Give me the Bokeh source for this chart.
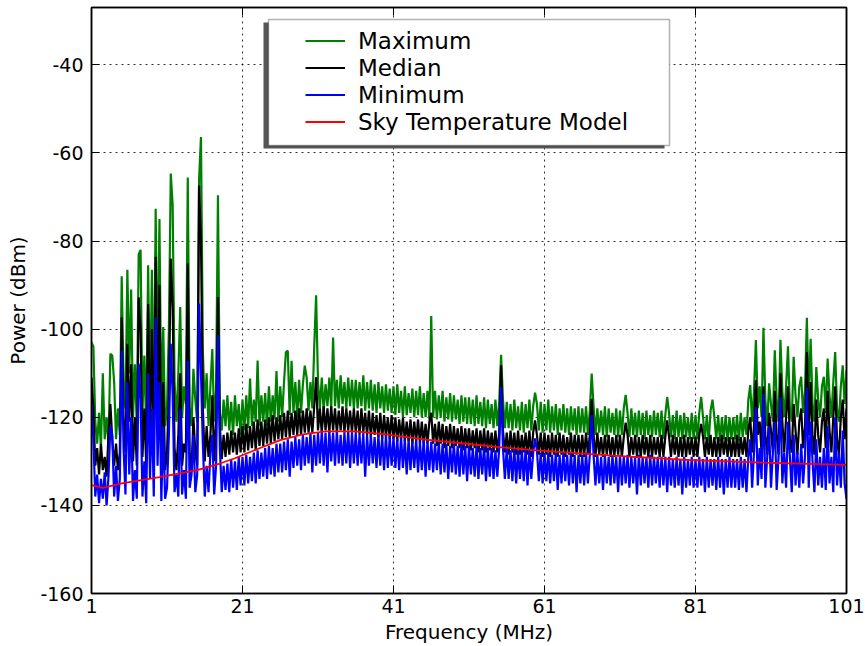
import numpy as np
from bokeh.plotting import figure
from bokeh.models import Range1d, FixedTicker, LinearAxis, Legend, LegendItem, BoxAnnotation
from bokeh.core.properties import value
from bokeh.embed import file_html
from bokeh.resources import INLINE

# ---------------- data (0.25 MHz steps from 1 to 101 MHz) ----------------
maximum = [
    -103, -104, -121, -126, -119, -127, -110, -125, -120, -126, -105.6, -106, -112, -125, -118, -124, -88, -112, -118, -86.5,
    -110, -91, -120, -108, -122, -83, -82, -119, -106, -123, -85.5, -118, -86.5, -121, -72.7, -112, -75, -120, -99.5, -122,
    -118, -100, -64.7, -71.8, -112, -121, -110, -95, -120, -113, -117, -65.6, -118, -122, -109, -116, -121, -66, -56.4, -105,
    -118, -110, -122, -113, -104.5, -121, -114, -69.6, -119, -123, -116, -122, -115, -123, -116.5, -124, -115, -122, -117, -124,
    -116, -123, -115, -122.5, -111.2, -122, -116, -121, -107.1, -122, -115, -121, -114.5, -122, -113, -121, -115, -120.5, -109.5, -121,
    -113, -120, -112, -105.2, -104.9, -119.5, -107.2, -119, -112, -120, -111.5, -119, -112.5, -108.3, -111, -118.5, -112, -118, -104, -92.3,
    -112, -118, -111, -118.5, -112.5, -117.5, -111, -118, -101.9, -117.5, -111.5, -118, -110.5, -117, -112, -118, -111, -117.5, -111.5, -118,
    -111.5, -118, -112, -117.5, -110.5, -118.5, -112, -118, -111.5, -118.5, -112.5, -119, -112, -118, -113, -119, -112.5, -118.5, -113.5, -119,
    -113, -119.5, -112.5, -119, -114, -120, -113, -119.5, -114.5, -119, -113.5, -120, -114, -119.5, -113, -120, -114.5, -120, -114, -120.5,
    -97, -120, -114, -120.5, -115, -120, -114, -121, -115.5, -120.5, -114.5, -121, -115, -120.5, -116, -121.5, -115, -121, -115.5, -121.5,
    -115.5, -121.5, -116, -122, -115, -121.5, -116.5, -122, -115.5, -122.5, -116, -121.5, -117, -122.5, -116, -122, -116.5, -105.8, -116, -122.5,
    -116.5, -122.5, -117, -123, -116, -122.5, -117.5, -123, -116.5, -123.5, -117, -122.5, -116, -123, -117.5, -114.4, -117, -123, -116.5, -123.5,
    -117, -123, -116, -123.5, -117.5, -123, -117, -124, -118, -123, -117, -123.5, -118, -124, -117.5, -123, -118, -124, -117.5, -123.5,
    -118, -123.5, -117.5, -124, -118.5, -110.1, -117.5, -124, -118, -123.5, -118.5, -124, -117.5, -124.5, -118, -123.5, -119, -124, -118, -124.5,
    -118.5, -124, -118, -114.9, -119, -124.5, -118, -124, -119, -124.5, -118.5, -124, -119, -125, -118.5, -124, -119.5, -124.5, -118.5, -124,
    -119, -124.5, -118.5, -125, -119.5, -115.4, -119, -124.5, -119.5, -125, -118.5, -124.5, -119.5, -125, -119, -124.5, -120, -125, -119, -125,
    -119.5, -125, -119, -115.4, -120, -125, -119.5, -125.5, -118.5, -116, -120, -125, -119.5, -125.5, -120, -125, -119.5, -125.5, -120, -125,
    -120, -125, -119.5, -125.5, -119, -124.5, -120, -124, -116, -112.7, -121, -114, -102.5, -118, -113, -120, -99.7, -116, -122, -112.3,
    -117, -121, -104.8, -116, -121, -102.4, -114, -120, -113, -103.9, -118, -121, -106.3, -115, -120, -113, -110.8, -119, -114, -97.4,
    -116, -102.2, -117, -121, -108.6, -116, -120, -113, -110.8, -119, -106.7, -115, -120, -112, -105.2, -118, -121, -113, -108.2, -117,
    -109.3,
]

median = [
    -111, -118, -131, -127, -133, -126, -132, -129, -133.5, -124, -117, -125, -131, -126, -132, -128, -97.3, -120, -128, -103.3,
    -121, -108, -130, -120, -131, -92.8, -100, -129, -118, -131, -94.3, -126, -100, -130, -83.6, -124, -90, -131, -112, -132,
    -128, -115, -84, -95, -127, -132, -124, -110, -131, -126, -128, -85.1, -128, -132, -120, -128, -131, -67.4, -80, -118,
    -130, -122, -129, -124, -115, -130, -121, -92.7, -122, -129.5, -124, -129, -123.5, -128.5, -123, -128, -123.5, -128.5, -122.5, -128,
    -122, -128, -121.5, -127.5, -122, -127, -121, -127.5, -120.5, -126.5, -121, -126.5, -120.5, -126, -120, -126, -119.5, -125.5, -120, -125,
    -119.5, -125, -119, -124.5, -118.5, -124.5, -119, -124, -118.5, -124, -118, -124, -118.5, -123.5, -118, -123.5, -118.5, -123.5, -117.5, -110.9,
    -123, -118, -123.5, -117.5, -123, -118, -123.5, -117.5, -123, -118, -123.5, -118.5, -123, -117.5, -123.5, -118, -123, -118.5, -123.5, -118,
    -123.5, -118.5, -124, -118, -123.5, -119, -124, -118.5, -124.5, -119, -124, -119.5, -124.5, -119, -125, -119.5, -124.5, -120, -125, -119.5,
    -125, -120, -125.5, -120.5, -125, -120, -125.5, -121, -125.5, -120.5, -126, -121, -125.5, -120.5, -126, -121, -126, -121.5, -126, -121,
    -119, -126, -121.5, -126.5, -121, -126, -121.5, -127, -122, -126.5, -121.5, -127, -122, -126.5, -122.5, -127, -122, -127.5, -122.5, -127,
    -122.5, -127.5, -123, -127, -122.5, -128, -123, -127.5, -122.5, -128, -123, -127.5, -123.5, -128, -123, -128, -123.5, -108.2, -123, -128,
    -123.5, -128.5, -123, -128, -123.5, -128.5, -123, -128.5, -124, -128, -123.5, -128.5, -123, -129, -123.5, -120.7, -124, -128.5, -123.5, -129,
    -123.5, -128.5, -124, -129, -123.5, -128.5, -124, -129, -123.5, -128.5, -124, -129, -124.5, -128.5, -123.5, -129, -124, -128.5, -124, -129,
    -124, -129, -123.5, -128.5, -124, -115.8, -124, -129, -123.5, -128.5, -124.5, -129, -124, -128.5, -124, -129, -124.5, -129, -124, -128.5,
    -124, -129, -124.5, -121.2, -124, -129, -124.5, -128.5, -124, -129, -124.5, -129, -124, -128.5, -124.5, -129, -124, -129, -124.5, -128.5,
    -124.5, -129, -124, -129, -124.5, -120.7, -124.5, -129, -124, -128.5, -124.5, -129, -124.5, -129, -124, -129, -124.5, -128.5, -124.5, -129,
    -124.5, -129, -124, -121.5, -124.5, -129, -124.5, -128.5, -124, -129, -124.5, -129, -124.5, -129, -124, -128.5, -124.5, -129, -124.5, -129,
    -124.5, -129, -124, -129, -124.5, -128.5, -124.5, -129, -123, -120, -128, -122, -111.6, -124, -121, -128, -113, -124, -128.5, -119,
    -123, -128, -114, -124, -128.5, -110, -121, -128, -120, -113, -125, -128, -117, -123, -128.5, -121, -118, -127, -122, -105.2,
    -124, -112, -124, -128.5, -116, -124, -128, -121, -118, -127, -114, -123, -128, -120, -113, -125, -128.5, -120, -116, -125,
    -118,
]

minimum = [
    -117, -125, -138, -133, -139.5, -134, -138.5, -132.5, -140, -133.5, -122, -124, -138, -131, -139, -134, -104.8, -127, -137.5, -112,
    -133, -120, -139, -132, -138.5, -107.8, -116, -138, -130, -139.5, -110, -134, -118, -138, -97.3, -131, -112, -139, -122, -138.5,
    -136, -124, -103.3, -115, -137, -133, -138, -118, -137.5, -132, -138.5, -107.1, -136, -133, -124, -137, -133, -94.2, -110, -126,
    -138, -131, -137, -128, -124, -137.5, -131, -101.4, -127, -137, -131, -136.5, -130.5, -137, -129.5, -136, -130, -136.5, -129, -135.5,
    -129, -135.5, -128.5, -135, -129, -134.5, -128, -135, -127.5, -134, -128, -133.5, -127, -134, -126.5, -133, -127, -133.5, -126, -132.5,
    -126, -132.5, -125.5, -132, -125, -133.5, -125.5, -131.5, -124.5, -131, -125, -132, -124, -131, -124.5, -130.5, -123.5, -132.5, -124, -131,
    -123.5, -130.5, -123, -131, -123.5, -132.5, -123, -130, -123.5, -131, -123, -130.5, -124, -131, -123.5, -130.5, -123, -131.5, -123.5, -130.5,
    -123.5, -131, -124, -130.5, -123.5, -133.5, -124, -131, -124, -130.5, -124.5, -131.5, -124, -131, -124.5, -132, -124, -131.5, -124.5, -131,
    -124.5, -131.5, -125, -132, -124.5, -131.5, -125, -133, -125, -132, -125.5, -131.5, -125, -132.5, -125.5, -132, -125, -133.5, -125.5, -132,
    -125.5, -132.5, -126, -132, -125.5, -133, -126, -132.5, -126, -134, -126.5, -132.5, -126, -133, -126.5, -133.5, -126, -133, -126.5, -134.5,
    -126.5, -133, -127, -133.5, -126.5, -134, -127, -133, -126.5, -134.5, -127, -133.5, -127, -134, -127.5, -133.5, -127, -113.1, -127, -134,
    -127, -134, -127.5, -134.5, -127, -135, -127.5, -134, -127.5, -134.5, -127, -135.5, -127.5, -134, -128, -124.8, -127.5, -134.5, -128, -135,
    -128, -134.5, -128, -135, -128.5, -134.5, -128, -136.5, -128.5, -135, -128, -134.5, -128.5, -135.5, -128, -135, -128.5, -137, -128.5, -135,
    -128.5, -135.5, -128, -135, -128.5, -119.5, -128.5, -135.5, -128.5, -135, -129, -136.5, -128.5, -135, -129, -135.5, -128.5, -135, -129, -137,
    -128.5, -135.5, -129, -135, -128.5, -136, -129, -135, -129, -137.5, -128.5, -135.5, -129, -135, -129, -136, -128.5, -135.5, -129, -135,
    -129, -136, -129, -135.5, -129, -137, -129, -135.5, -129.5, -136, -129, -135.5, -129.5, -137.5, -129, -136, -129.5, -135.5, -129, -136,
    -129.5, -136, -129, -135.5, -129.5, -137, -129, -136, -129.5, -135.5, -129.5, -136.5, -129, -136, -129.5, -137.5, -129.5, -136, -129, -136,
    -129.5, -136, -129.5, -136.5, -129, -136, -129.5, -137, -129, -125, -136, -128, -117.7, -135.5, -127, -134, -114.7, -136, -129, -122,
    -136, -128, -121, -136.5, -129, -115.5, -135, -128, -136, -121, -129, -137, -124, -135.5, -128, -136, -126, -135, -129, -113.3,
    -136, -121, -130, -137, -125, -135.5, -129, -136, -127, -136.5, -122, -135, -129, -137, -120, -135.5, -128, -136, -123, -135,
    -138.5,
]

sky_freq = [1, 2.5, 5, 10, 15, 18, 20, 23, 26, 29, 32, 36, 40, 45, 50, 55, 60, 70, 80, 90, 101]
sky_model = [-135.4, -136.0, -135.0, -133.6, -132.0, -130.5, -129.3, -127.2, -125.2, -123.9, -123.2,
             -123.2, -123.9, -125.0, -125.9, -126.8, -127.5, -128.7, -129.7, -130.3, -130.8]

x_ticks = [1, 21, 41, 61, 81, 101]
y_ticks = [-160, -140, -120, -100, -80, -60, -40]
labels = ["Maximum", "Median", "Minimum", "Sky Temperature Model"]

assert len(maximum) == len(median) == len(minimum) == 401, (len(maximum), len(median), len(minimum))
freq = np.linspace(1, 101, len(maximum))

# ---------------- figure ----------------
W, H = 865, 646
BL, BR, BT, BB = 91, 19, 7, 53
X0, X1 = 1, 101
Y0, Y1 = -160, -27
FONT = "DejaVu Sans"

p = figure(width=W, height=H, x_range=Range1d(X0, X1), y_range=Range1d(Y0, Y1),
           output_backend="svg", toolbar_location=None,
           min_border_left=BL, min_border_right=BR, min_border_top=BT, min_border_bottom=BB,
           background_fill_color="white", border_fill_color="white")

p.outline_line_color = "black"
p.outline_line_width = 1.5
p.outline_line_alpha = 1

p.xaxis.ticker = FixedTicker(ticks=x_ticks)
p.yaxis.ticker = FixedTicker(ticks=y_ticks)
p.xaxis.major_label_overrides = {t: str(t) for t in x_ticks}
p.yaxis.major_label_overrides = {t: str(t) for t in y_ticks}
for ax in (p.xaxis[0], p.yaxis[0]):
    ax.major_tick_in = 8
    ax.major_tick_out = 0
    ax.minor_tick_in = 0
    ax.minor_tick_out = 0
    ax.axis_line_color = "black"
    ax.axis_line_width = 1.5
    ax.major_tick_line_color = "black"
    ax.major_label_text_font = FONT
    ax.major_label_text_font_size = "19px"
    ax.major_label_text_color = "black"
    ax.axis_label_text_font = FONT
    ax.axis_label_text_font_size = "20px"
    ax.axis_label_text_font_style = "normal"
    ax.axis_label_text_color = "black"
p.xaxis.axis_label = "Frequency (MHz)"
p.yaxis.axis_label = "Power (dBm)"
p.xaxis.major_label_standoff = 5
p.xaxis.axis_label_standoff = 4
p.yaxis.major_label_standoff = 8
p.yaxis.axis_label_standoff = 7

# inward tick marks on the right and top spines (no labels there)
for place, tick in (("right", y_ticks), ("above", x_ticks)):
    ax = LinearAxis(ticker=FixedTicker(ticks=tick), major_label_text_font_size="0px",
                    major_tick_in=8, major_tick_out=0, minor_tick_in=0, minor_tick_out=0,
                    major_label_standoff=0, axis_line_width=1.5, axis_line_color="black")
    p.add_layout(ax, place)

p.grid.grid_line_color = "black"
p.grid.grid_line_alpha = 0.8
p.grid.grid_line_dash = "2 4"
p.grid.grid_line_width = 1

LW = 2.2
r_max = p.line(freq, maximum, line_color="#008000", line_width=LW)
r_med = p.line(freq, median, line_color="#000000", line_width=LW)
r_min = p.line(freq, minimum, line_color="#0000ff", line_width=LW)
r_sky = p.line(sky_freq, sky_model, line_color="#ff0000", line_width=1.8)

# legend frame (shadow + box), positioned in screen pixels converted to data units
def px_to_x(px):
    return X0 + (px - BL) * (X1 - X0) / (W - BL - BR)

def px_to_y(py):
    return Y1 - (py - BT) * (Y1 - Y0) / (H - BT - BB)

shadow = BoxAnnotation(left=px_to_x(263), right=px_to_x(664), top=px_to_y(22), bottom=px_to_y(148),
                       fill_color="#555555", fill_alpha=1, line_alpha=0)
box = BoxAnnotation(left=px_to_x(268), right=px_to_x(669), top=px_to_y(19), bottom=px_to_y(145),
                    fill_color="white", fill_alpha=1, line_color="black", line_width=1.5)
p.add_layout(shadow)
p.add_layout(box)

PAD = 9
legend = Legend(
    items=[LegendItem(label=value(labels[0]), renderers=[r_max]),
           LegendItem(label=value(labels[1]), renderers=[r_med]),
           LegendItem(label=value(labels[2]), renderers=[r_min]),
           LegendItem(label=value(labels[3]), renderers=[r_sky])],
    location=(305 - BL - PAD, (H - BB) - 144),
    padding=PAD, spacing=0, margin=0,
    glyph_width=40, glyph_height=27, label_height=27, label_standoff=13,
    label_text_font=FONT, label_text_font_size="23px", label_text_color="black",
    border_line_alpha=0, background_fill_alpha=0,
)
p.add_layout(legend)

open("out.html", "w").write(file_html(p, INLINE))
